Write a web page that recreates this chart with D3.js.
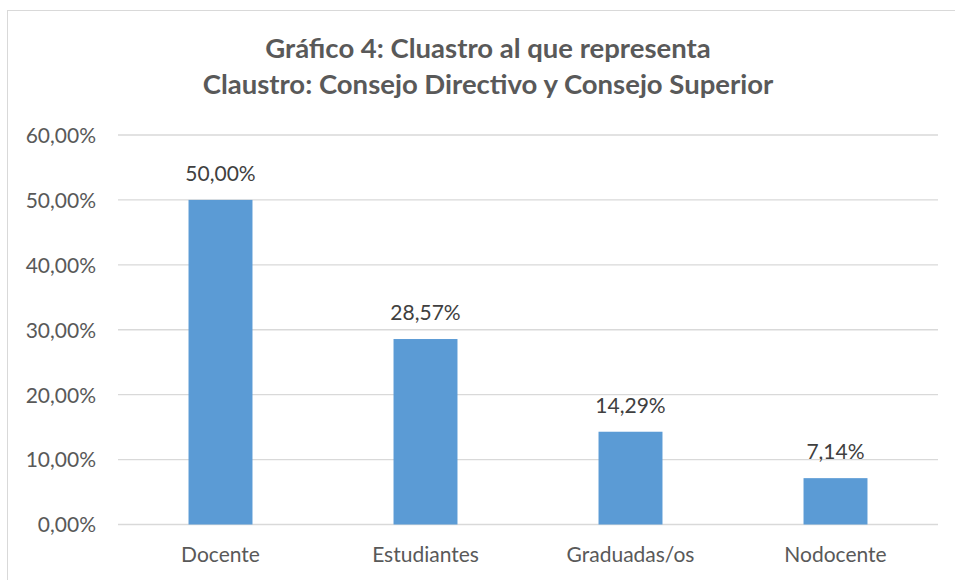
<!DOCTYPE html>
<html><head><meta charset="utf-8">
<script src="https://cdn.jsdelivr.net/npm/d3@7"></script>
<style>body{margin:0;background:#fff}svg{display:block}text{font-family:Lato,"Open Sans",sans-serif}</style>
</head><body><svg id="c" width="955" height="580"></svg>
<script>
const categories = ["Docente","Estudiantes","Graduadas/os","Nodocente"];
const values = [50.00, 28.57, 14.29, 7.14];
const valueLabels = ["50,00%","28,57%","14,29%","7,14%"];
const yTicks = [0,10,20,30,40,50,60];
const yTickLabels = ["0,00%","10,00%","20,00%","30,00%","40,00%","50,00%","60,00%"];
const titleLines = ["Gráfico 4: Cluastro al que representa","Claustro: Consejo Directivo y Consejo Superior"];

const svg = d3.select("#c");
svg.append("rect").attr("x",7.5).attr("y",10.5).attr("width",960).attr("height",600)
  .attr("fill","#fff").attr("stroke","#d9d9d9").attr("stroke-width",1);

const x = d3.scaleBand().domain(categories).range([118,938]).paddingInner(0.688).paddingOuter(0.344);
const y = d3.scaleLinear().domain([0,60]).range([524.5,135]);

const grid = svg.append("g");
grid.selectAll("line").data(yTicks).join("line")
  .attr("x1",118).attr("x2",938).attr("y1",d=>y(d)).attr("y2",d=>y(d))
  .attr("stroke","#d9d9d9").attr("stroke-width",1.3);

const yAxis = d3.axisLeft(y).tickValues(yTicks).tickFormat((d,i)=>yTickLabels[i]).tickSize(0).tickPadding(22);
const ga = svg.append("g").attr("transform","translate(118,0)").call(yAxis);
ga.select(".domain").remove();
ga.selectAll("text").attr("fill","#595959").style("font-size","21px").attr("dy","0.35em");

svg.append("g").selectAll("rect").data(values).join("rect")
  .attr("x",(d,i)=>x(categories[i])).attr("width",x.bandwidth())
  .attr("y",d=>y(d)).attr("height",d=>y(0)-y(d)).attr("fill","#5b9bd5");

svg.append("g").selectAll("text").data(values).join("text")
  .attr("x",(d,i)=>x(categories[i])+x.bandwidth()/2).attr("y",d=>y(d)-19)
  .attr("text-anchor","middle").attr("fill","#404040").style("font-size","21px")
  .text((d,i)=>valueLabels[i]);

const xAxis = d3.axisBottom(x).tickSize(0).tickPadding(22.5);
const gx = svg.append("g").attr("transform","translate(0,524.5)").call(xAxis);
gx.select(".domain").remove();
gx.selectAll("text").attr("fill","#595959").style("font-size","21px");

svg.append("g").selectAll("text").data(titleLines).join("text")
  .attr("x",488).attr("y",(d,i)=>58+i*36).attr("text-anchor","middle")
  .attr("fill","#595959").style("font-size","27.5px").style("font-weight","bold").text(d=>d);
</script></body></html>
